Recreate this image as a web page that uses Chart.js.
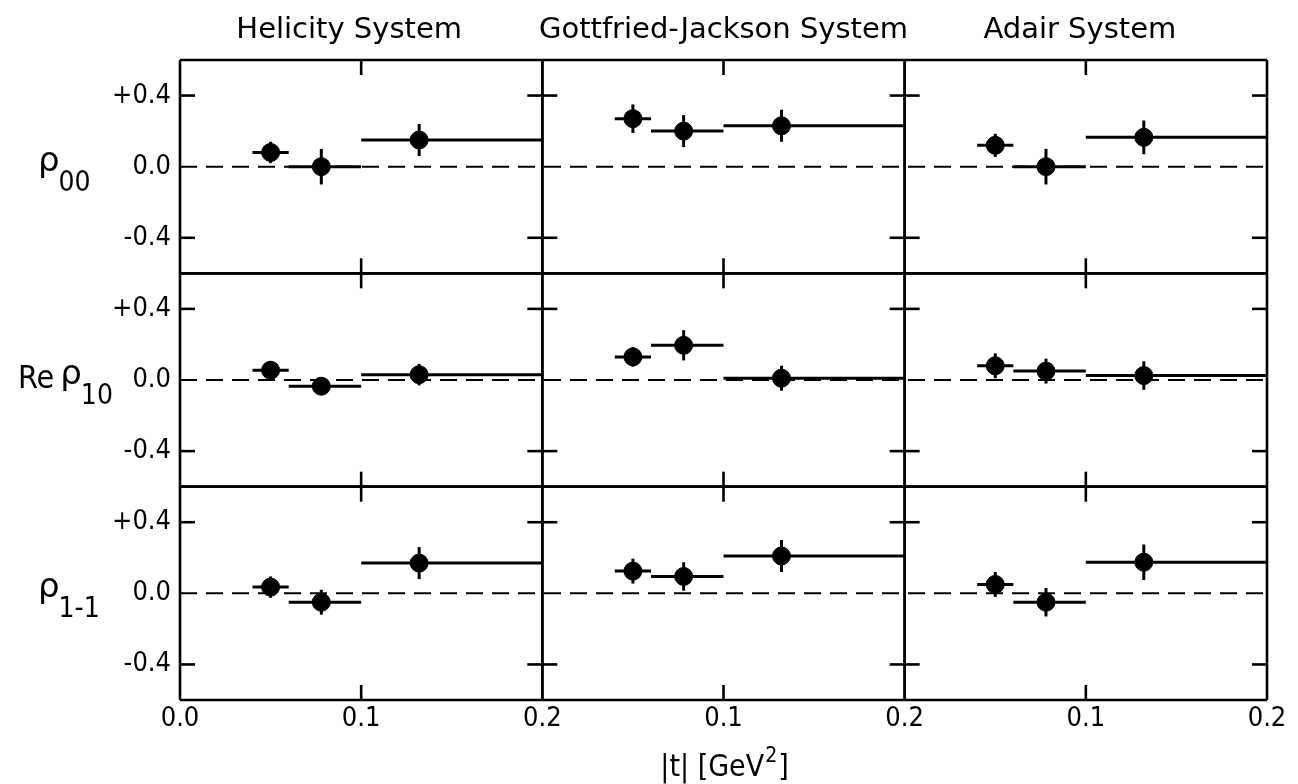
<!DOCTYPE html>
<html>
<head>
<meta charset="utf-8">
<script src="https://cdn.jsdelivr.net/npm/chart.js@4.4.0/dist/chart.umd.min.js"></script>
<style>
  html, body { margin: 0; padding: 0; background: #fff; }
  #wrap { width: 1298px; height: 784px; position: relative; }
</style>
</head>
<body>
<div id="wrap"><canvas id="c"></canvas></div>
<script>
// === Data ===
const systems   = ['Helicity System', 'Gottfried-Jackson System', 'Adair System'];
const binLow    = [0.04, 0.06, 0.10];
const binHigh   = [0.06, 0.10, 0.20];
const tMean     = [0.05, 0.078, 0.132];
const xTicks    = [0, 0.1, 0.2];
const xTickLabels = ['0.0', '0.1', '0.2'];
const yTicks    = [-0.4, 0, 0.4];
const yTickLabels = ['-0.4', '0.0', '+0.4'];

// helicity system
const helRho00     = [0.08, 0.00, 0.15];
const helRho00Err  = [0.06, 0.10, 0.09];
const helReRho10    = [0.055, -0.035, 0.03];
const helReRho10Err = [0.05, 0.05, 0.06];
const helRho1m1    = [0.035, -0.05, 0.17];
const helRho1m1Err = [0.06, 0.07, 0.09];
// gottfried-jackson system
const gjRho00      = [0.27, 0.20, 0.23];
const gjRho00Err   = [0.08, 0.09, 0.09];
const gjReRho10     = [0.13, 0.195, 0.01];
const gjReRho10Err  = [0.055, 0.085, 0.07];
const gjRho1m1     = [0.125, 0.095, 0.21];
const gjRho1m1Err  = [0.07, 0.08, 0.09];
// adair system
const adRho00      = [0.12, 0.00, 0.165];
const adRho00Err   = [0.065, 0.10, 0.095];
const adReRho10     = [0.08, 0.05, 0.025];
const adReRho10Err  = [0.07, 0.07, 0.08];
const adRho1m1     = [0.05, -0.05, 0.175];
const adRho1m1Err  = [0.07, 0.08, 0.10];

// rows: [label parts], cols: systems
const rowLabels = [
  { pre: '',   sub: '00' },
  { pre: 'Re', sub: '10' },
  { pre: '',   sub: '1-1' }
];
const grid = [
  [[helRho00, helRho00Err],     [gjRho00, gjRho00Err],     [adRho00, adRho00Err]],
  [[helReRho10, helReRho10Err], [gjReRho10, gjReRho10Err], [adReRho10, adReRho10Err]],
  [[helRho1m1, helRho1m1Err],   [gjRho1m1, gjRho1m1Err],   [adRho1m1, adRho1m1Err]]
];

const FONT = "'Liberation Sans Narrow','DejaVu Sans Condensed','Liberation Sans',sans-serif";
const TFONT = "'DejaVu Sans','Liberation Sans',sans-serif";
const colIds = ['x0', 'x1', 'x2'];
const rowIds = ['y0', 'y1', 'y2'];

// === Datasets ===
const datasets = [];
grid.forEach((row, r) => row.forEach(([vals, errs], c) => {
  datasets.push({
    label: systems[c] + ' row ' + r,
    xAxisID: colIds[c], yAxisID: rowIds[r],
    data: tMean.map((t, i) => ({ x: t, y: vals[i] })),
    yErr: errs, xLow: binLow, xHigh: binHigh,
    backgroundColor: '#000', borderColor: '#000',
    pointRadius: 9, pointHoverRadius: 9, pointStyle: 'circle'
  });
}));

// === Scales ===
function xScale(c) {
  return {
    type: 'linear', position: 'bottom', stack: 'cols', stackWeight: 1,
    min: 0, max: 0.2, offset: false,
    grid: { display: false, drawTicks: false }, border: { display: false },
    afterBuildTicks: s => { s.ticks = xTicks.map(v => ({ value: v })); },
    afterFit: s => { s.height = 84; },
    ticks: {
      autoSkip: false, maxRotation: 0, padding: 3, color: '#000',
      font: { family: FONT, size: 27 },
      callback: (v, i) => (c > 0 && i === 0) ? '' : xTickLabels[i]
    }
  };
}
function yScale() {
  return {
    type: 'linear', position: 'left', stack: 'rows', stackWeight: 1,
    min: -0.6, max: 0.6,
    grid: { display: false, drawTicks: false }, border: { display: false },
    afterBuildTicks: s => { s.ticks = yTicks.map(v => ({ value: v })); },
    afterFit: s => { s.width = 180; },
    ticks: {
      autoSkip: false, padding: 9, color: '#000',
      font: { family: FONT, size: 27 },
      callback: (v, i) => yTickLabels[i]
    }
  };
}
// left axes are stacked bottom-up by definition order, so list y2 first
const scales = { x0: xScale(0), x1: xScale(1), x2: xScale(2), y2: yScale(), y1: yScale(), y0: yScale() };

// === Drawing plugin: frames, ticks, zero lines, error bars, labels ===
const panelDraw = {
  id: 'panelDraw',
  beforeDatasetsDraw(chart) {
    const ctx = chart.ctx, a = chart.chartArea;
    const line = (x1, y1, x2, y2) => { ctx.beginPath(); ctx.moveTo(x1, y1); ctx.lineTo(x2, y2); ctx.stroke(); };
    ctx.save();
    ctx.strokeStyle = '#000';
    ctx.lineCap = 'butt';
    // dashed zero line
    ctx.lineWidth = 2;
    ctx.setLineDash([17, 9]);
    rowIds.forEach(id => {
      const y = chart.scales[id].getPixelForValue(0);
      line(a.left, y, a.right, y);
    });
    ctx.setLineDash([]);
    // frames
    ctx.lineWidth = 2.6;
    colIds.forEach(id => { const s = chart.scales[id]; line(s.left, a.top, s.left, a.bottom); line(s.right, a.top, s.right, a.bottom); });
    rowIds.forEach(id => { const s = chart.scales[id]; line(a.left, s.top, a.right, s.top); line(a.left, s.bottom, a.right, s.bottom); });
    // tick marks
    const TL = 15;
    rowIds.forEach(rid => {
      const ys = chart.scales[rid];
      colIds.forEach(cid => {
        const xs = chart.scales[cid];
        yTicks.filter(v => v !== 0).forEach(v => {
          const y = ys.getPixelForValue(v);
          line(xs.left, y, xs.left + TL, y);
          line(xs.right - TL, y, xs.right, y);
        });
        xTicks.filter(v => v > xs.min && v < xs.max).forEach(v => {
          const x = xs.getPixelForValue(v);
          line(x, ys.top, x, ys.top + TL);
          line(x, ys.bottom - TL, x, ys.bottom);
        });
      });
    });
    // error bars
    ctx.lineWidth = 3;
    chart.data.datasets.forEach(ds => {
      const xs = chart.scales[ds.xAxisID], ys = chart.scales[ds.yAxisID];
      ds.data.forEach((p, i) => {
        const x = xs.getPixelForValue(p.x), y = ys.getPixelForValue(p.y);
        line(xs.getPixelForValue(ds.xLow[i]), y, xs.getPixelForValue(ds.xHigh[i]), y);
        line(x, ys.getPixelForValue(p.y - ds.yErr[i]), x, ys.getPixelForValue(p.y + ds.yErr[i]));
      });
    });
    ctx.restore();
  },
  afterDraw(chart) {
    const ctx = chart.ctx;
    ctx.save();
    ctx.fillStyle = '#000';
    // system titles
    ctx.font = '29px ' + TFONT;
    ctx.textAlign = 'center';
    ctx.textBaseline = 'middle';
    const titleShift = [-12, 0, -6];
    colIds.forEach((id, c) => {
      const s = chart.scales[id];
      ctx.fillText(systems[c], (s.left + s.right) / 2 + titleShift[c], 30);
    });
    // axis title |t| [GeV2]
    const s1 = chart.scales.x1;
    const cx = (s1.left + s1.right) / 2;
    ctx.textAlign = 'left';
    ctx.textBaseline = 'alphabetic';
    ctx.font = '30px ' + FONT;
    const main = '|t| [GeV', w1 = ctx.measureText(main).width;
    ctx.font = '21px ' + FONT;
    const w2 = ctx.measureText('2').width;
    ctx.font = '30px ' + FONT;
    const w3 = ctx.measureText(']').width;
    let x0 = cx - (w1 + w2 + w3) / 2;
    ctx.fillText(main, x0, 776);
    ctx.font = '21px ' + FONT;
    ctx.fillText('2', x0 + w1 + 1, 762);
    ctx.font = '30px ' + FONT;
    ctx.fillText(']', x0 + w1 + w2 + 2, 776);
    // row labels rho
    const lx = [38, 18, 38];
    rowIds.forEach((id, r) => {
      const y0 = chart.scales[id].getPixelForValue(0);
      let x = lx[r];
      const lab = rowLabels[r];
      if (lab.pre) {
        ctx.font = '32px ' + FONT;
        ctx.fillText(lab.pre, x, y0 + 8);
        x += ctx.measureText(lab.pre).width + 6;
      }
      ctx.font = '34px ' + TFONT;
      ctx.fillText('ρ', x, y0 + 4);
      x += ctx.measureText('ρ').width - 1;
      ctx.font = '28px ' + FONT;
      ctx.fillText(lab.sub, x, y0 + 24);
    });
    ctx.restore();
  }
};

new Chart(document.getElementById('c'), {
  type: 'scatter',
  data: { datasets },
  options: {
    responsive: true, maintainAspectRatio: false, animation: false,
    layout: { padding: { top: 60, right: 31, left: 0, bottom: 0 } },
    plugins: { legend: { display: false }, tooltip: { enabled: false } },
    scales
  },
  plugins: [panelDraw]
});
</script>
</body>
</html>
